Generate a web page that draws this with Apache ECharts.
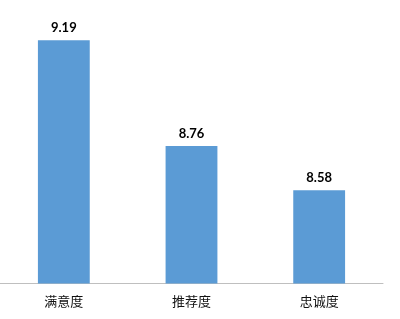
<!DOCTYPE html>
<html>
<head>
<meta charset="utf-8">
<script src="https://cdn.jsdelivr.net/npm/echarts@6/dist/echarts.min.js"></script>
<style>html,body{margin:0;padding:0;background:#fff;}#c{width:400px;height:319px;}</style>
</head>
<body>
<div id="c"></div>
<script>
const categories = ['满意度', '推荐度', '忠诚度'];
const scores = [9.19, 8.76, 8.58];

const chart = echarts.init(document.getElementById('c'));
chart.setOption({
  animation: false,
  backgroundColor: '#ffffff',
  grid: { left: 0, right: 17, top: 1, bottom: 35.5, containLabel: false },
  xAxis: {
    type: 'category',
    data: categories,
    axisLine: { lineStyle: { color: '#BFBFBF', width: 1 } },
    axisTick: { show: false },
    axisLabel: { color: '#111', fontSize: 13, margin: 11, fontFamily: 'Noto Sans CJK SC' }
  },
  yAxis: {
    type: 'value',
    min: 8.2,
    max: 9.35,
    show: false,
    splitLine: { show: false }
  },
  series: [{
    type: 'bar',
    data: scores,
    barWidth: '40.6%',
    itemStyle: { color: '#5B9BD5' },
    label: {
      show: true,
      position: 'top',
      distance: 6,
      color: '#000',
      fontWeight: 'bold',
      fontSize: 13,
      fontFamily: 'Lato',
      formatter: p => p.value.toFixed(2)
    }
  }]
});
</script>
</body>
</html>
